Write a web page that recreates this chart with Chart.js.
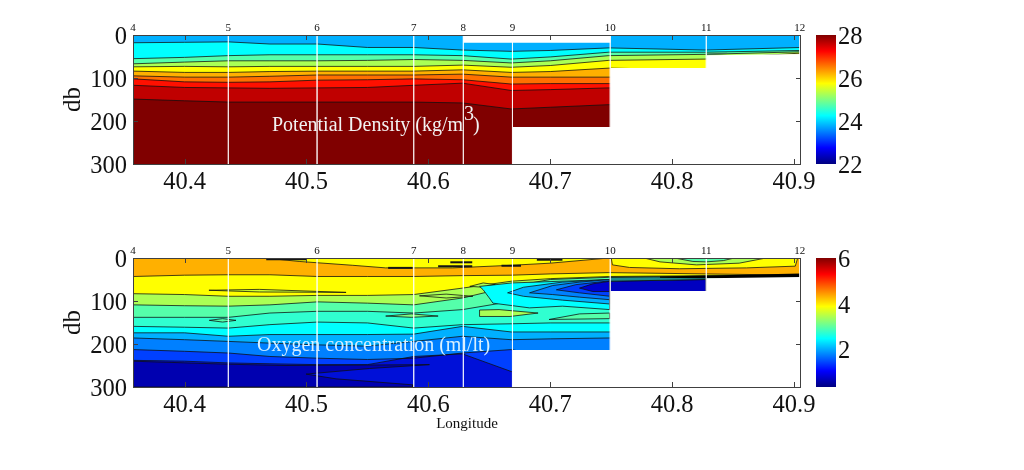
<!DOCTYPE html>
<html>
<head>
<meta charset="utf-8">
<title>Potential density and oxygen section</title>
<script src="https://cdn.jsdelivr.net/npm/chart.js@4/dist/chart.umd.min.js"></script>
<style>
    body { margin: 0; background: #fff; }
    canvas { position: absolute; }
</style>
</head>
<body>
<canvas id="densityChart" width="783" height="200" style="left:58px;top:0"></canvas>
<canvas id="densityBar" width="224" height="200" style="left:800px;top:0"></canvas>
<canvas id="oxygenChart" width="783" height="224" style="left:58px;top:223px"></canvas>
<canvas id="oxygenBar" width="224" height="224" style="left:800px;top:223px"></canvas>
<script>
// axes
const lonMin = 40.3577;
const lonMax = 40.9057;
const lonTicks = [40.4, 40.5, 40.6, 40.7, 40.8, 40.9];
const depthTicks = [0, 100, 200, 300];
const stationLon = [40.3577, 40.4359, 40.5087, 40.588, 40.6287, 40.669, 40.7492, 40.828, 40.9047];
const stationNames = ['4', '5', '6', '7', '8', '9', '10', '11', '12'];

// longitudes every contour below is read at
const gridLon = [40.358, 40.40, 40.436, 40.47, 40.509, 40.55, 40.588, 40.628, 40.668, 40.70, 40.748, 40.827, 40.906];

// section outline, white outside of it
const floorLon = [40.669, 40.669, 40.7495, 40.7495, 40.8285, 40.8285, 40.906, 40.906];
const floorDepth = [300, 214, 214, 77, 77, 47, 44, 300];
const notchLon = [40.6287, 40.6287, 40.7495, 40.7495];
const notchDepth = [0, 18, 18, 0];

// potential density contours (depth in db at gridLon)
const sigmaA = [18, 17, 16, 21, 21, 29, 29, 35, 38, 36, 30, 35, 29];
const sigmaB = [55, 52, 48, 46, 46, 46, 46, 48, 56, 51, 40, 40, 36];
const sigmaC = [67, 63, 60, 60, 60, 59, 57, 59, 65, 60, 48, 45, 39];
const sigmaD = [74, 73, 74, 73, 73, 73, 73, 70, 75, 71, 59, 56, 42];
const sigmaE = [84, 87, 87, 85, 84, 84, 84, 81, 87, 85, 77, 81, 44];
const sigmaF = [95, 98, 98, 96, 93, 93, 93, 91, 98, 98, 98, 98, 98];
const sigmaG = [102, 109, 110, 109, 105, 104, 102, 104, 114, 113, 113, 113, 113];
const sigmaH = [117, 122, 123, 124, 123, 122, 117, 112, 129, 127, 123, 123, 123];
const sigmaI = [149, 153, 156, 156, 156, 156, 156, 158, 172, 168, 162, 162, 162];
const sigmaSpotLon = [40.828, 40.845, 40.845, 40.828];
const sigmaSpotDepth = [43, 41, 44, 47];

// oxygen contours (depth in db at gridLon)
const oxyA = [43, 40, 39, 39, 43, 43, 43, 41, 40, 37, 34, 37, 40];
const oxyB = [83, 85, 89, 89, 87, 87, 85, 70, 54, 48, 43, 41, 42];
const oxyC = [109, 111, 112, 109, 102, 105, 109, 93, 66, 50, 45, 43, 43];
const oxyD = [138, 138, 138, 128, 124, 124, 128, 120, 101, 60, 52, 50, 48];
const oxyE = [159, 161, 163, 155, 149, 151, 163, 155, 153, 151, 151, 151, 151];
const oxyF = [174, 174, 182, 178, 178, 178, 177, 159, 172, 172, 172, 172, 172];
const oxyG = [186, 190, 194, 198, 202, 205, 194, 182, 190, 188, 186, 186, 186];
const oxyH = [213, 217, 221, 229, 233, 236, 233, 221, 213, 230, 230, 230, 230];
const oxyI = [238, 240, 244, 246, 248, 248, 229, 223, 264, 280, 280, 280, 280];

// closed oxygen patches
const topYellowLon = [40.4695, 40.494, 40.538, 40.565, 40.62, 40.668, 40.70, 40.748];
const topYellowDepth = [1, 8, 17, 23, 23, 17, 12, 0];
const lensYellowLon = [40.75, 40.751, 40.765, 40.806, 40.861, 40.901, 40.903];
const lensYellowDepth = [0, 16, 22, 25, 23, 19, 0];
const lensGreenLon = [40.777, 40.79, 40.82, 40.855, 40.877];
const lensGreenDepth = [0, 9, 16, 12, 0];
const lensAquaLon = [40.802, 40.817, 40.828, 40.842, 40.851];
const lensAquaDepth = [0, 8, 9, 6, 0];
const blackBandLon = [40.79, 40.906, 40.906, 40.79];
const blackBandDepth = [43, 36, 50, 46];
const wedgeCyanLon = [40.642, 40.6685, 40.749, 40.749, 40.71, 40.683, 40.653, 40.65, 40.645];
const wedgeCyanDepth = [66, 58, 50, 120, 112, 116, 105, 93, 74];
const wedgeSkyLon = [40.665, 40.678, 40.71, 40.749, 40.749, 40.71, 40.678];
const wedgeSkyDepth = [81, 68, 56, 50, 107, 98, 89];
const wedgeAzureLon = [40.683, 40.702, 40.724, 40.749, 40.749, 40.724, 40.702];
const wedgeAzureDepth = [81, 64, 56, 50, 97, 91, 85];
const wedgeBlueLon = [40.705, 40.721, 40.749, 40.749, 40.724];
const wedgeBlueDepth = [74, 62, 53, 89, 81];
const wedgeNavyLon = [40.724, 40.735, 40.749, 40.749, 40.735];
const wedgeNavyDepth = [70, 60, 54, 78, 78];
const shelfNavyLon = [40.749, 40.828, 40.828, 40.749];
const shelfNavyDepth = [54, 50, 78, 78];
const shelfTealLon = [40.749, 40.785, 40.828, 40.828, 40.749];
const shelfTealDepth = [45, 44, 45, 50, 54];
const tongueLon = [40.642, 40.658, 40.69, 40.667, 40.642];
const tongueDepth = [121, 120, 128, 136, 136];
const tongueLowLon = [40.699, 40.724, 40.749, 40.749];
const tongueLowDepth = [143, 130, 128, 141];
const spotWestLon = [40.4203, 40.4312, 40.4422, 40.4312];
const spotWestDepth = [145, 141, 145, 149];
const spotEastLon = [40.565, 40.586, 40.608, 40.586];
const spotEastDepth = [135, 130, 135, 138];
const spotUpperLon = [40.42, 40.4613, 40.5325, 40.4613];
const spotUpperDepth = [75, 73, 80, 79];
const spotMidLon = [40.5927, 40.6146, 40.6365, 40.6146];
const spotMidDepth = [88, 84, 89, 93];
const spotRidgeLon = [40.634, 40.645, 40.655, 40.645];
const spotRidgeDepth = [66, 58, 62, 68];
const navyWestLon = [40.3573, 40.4359, 40.4832, 40.6009, 40.5517, 40.4997, 40.5243, 40.5872, 40.5872, 40.3573];
const navyWestDepth = [240, 247, 250, 248, 257, 270, 281, 295, 300, 300];
// squeezed contours that print as short black dashes
const dashStart = [40.467, 40.567, 40.608, 40.618, 40.66, 40.689];
const dashEnd = [40.50, 40.587, 40.636, 40.636, 40.676, 40.71];
const dashDepth = [3, 23, 19, 10, 18, 4];

const SERIF = '"Liberation Serif", "Times New Roman", serif';
const LINE = 'rgba(15,15,15,0.85)';
const FRAME = '#404040';
const jetStops = [[0, '#000080'], [0.125, '#0000ff'], [0.375, '#00ffff'], [0.625, '#ffff00'], [0.875, '#ff0000'], [1, '#800000']];

const toPoints = (lon, depth) => lon.map((x, i) => ({ x, y: depth[i] }));

// filled region: contour line closed at the bottom of the axes
function bandSet(depth, color) {
    const pts = toPoints(gridLon, depth);
    pts.push({ x: lonMax + 0.01, y: 300 }, { x: lonMin - 0.01, y: 300 });
    return { data: pts, fill: 'shape', backgroundColor: color, borderWidth: 0, pointRadius: 0 };
}

function patchSet(lon, depth, color, outlined) {
    const pts = toPoints(lon, depth);
    pts.push(pts[0]);
    return {
        data: pts, fill: 'shape', backgroundColor: color, pointRadius: 0,
        borderColor: LINE, borderWidth: outlined ? 0.9 : 0
    };
}

function contourSet(depth) {
    return { data: toPoints(gridLon, depth), fill: false, borderColor: LINE, borderWidth: 0.9, pointRadius: 0 };
}

function dashSets() {
    return dashStart.map((x, i) => ({
        data: [{ x, y: dashDepth[i] }, { x: dashEnd[i], y: dashDepth[i] }],
        fill: false, borderColor: '#151515', borderWidth: 2, pointRadius: 0
    }));
}

function stationSets() {
    return stationLon.slice(1).map(x => ({
        data: [{ x, y: 0 }, { x, y: 300 }],
        fill: false, borderColor: 'rgba(255,255,255,0.8)', borderWidth: 0.8, pointRadius: 0
    }));
}

// tick text sits a little below the tick in the original, a blank first line with a small line height does that
const loweredLabel = v => ['', String(v)];

// frame with inward MATLAB style ticks, plus the white caption
function framePlugin(drawCaption) {
    return {
        id: 'frame',
        afterDatasetsDraw(chart) {
            const { ctx, chartArea: a, scales } = chart;
            ctx.save();
            ctx.strokeStyle = FRAME;
            ctx.lineWidth = 1;
            ctx.beginPath();
            lonTicks.forEach(v => {
                const px = Math.round(scales.x.getPixelForValue(v)) + 0.5;
                ctx.moveTo(px, a.top);
                ctx.lineTo(px, a.top + 5);
                ctx.moveTo(px, a.bottom);
                ctx.lineTo(px, a.bottom - 5);
            });
            depthTicks.slice(1, 3).forEach(v => {
                const py = Math.round(scales.y.getPixelForValue(v)) + 0.5;
                ctx.moveTo(a.left, py);
                ctx.lineTo(a.left + 5, py);
                ctx.moveTo(a.right, py);
                ctx.lineTo(a.right - 5, py);
            });
            ctx.stroke();
            ctx.strokeRect(a.left + 0.5, a.top + 0.5, a.right - a.left - 1, a.bottom - a.top);
            ctx.restore();
            drawCaption(ctx, scales);
        }
    };
}

function sectionChart(id, datasets, bottomHeight, xTitle, drawCaption) {
    datasets.forEach((d, i) => {
        d.order = -i;
        d.xAxisID = 'x';
        d.yAxisID = 'y';
        d.tension = 0;
    });
    return new Chart(document.getElementById(id), {
        type: 'line',
        data: { datasets },
        plugins: [framePlugin(drawCaption)],
        options: {
            responsive: false,
            animation: false,
            layout: { padding: { right: 40 } },
            plugins: { legend: { display: false }, tooltip: { enabled: false } },
            scales: {
                x: {
                    type: 'linear', position: 'bottom', min: lonMin, max: lonMax,
                    afterBuildTicks: s => { s.ticks = lonTicks.map(value => ({ value })); },
                    afterFit: s => { s.height = bottomHeight; },
                    grid: { display: false, drawTicks: false },
                    border: { display: false },
                    ticks: {
                        autoSkip: false, maxRotation: 0, padding: 4, color: '#111',
                        font: { family: SERIF, size: 24.5 },
                        callback: v => v.toFixed(1)
                    },
                    title: {
                        display: !!xTitle, text: xTitle, color: '#111',
                        font: { family: SERIF, size: 15 }, padding: { top: 0, bottom: 14 }
                    }
                },
                stations: {
                    type: 'linear', position: 'top', min: lonMin, max: lonMax,
                    afterBuildTicks: s => { s.ticks = stationLon.map(value => ({ value })); },
                    afterFit: s => { s.height = 35; },
                    grid: { display: false, drawTicks: false },
                    border: { display: false },
                    ticks: {
                        autoSkip: false, maxRotation: 0, padding: 0, color: '#111',
                        font: { family: SERIF, size: 11 },
                        callback: (v, i) => stationNames[i]
                    }
                },
                y: {
                    type: 'linear', position: 'left', reverse: true, min: 0, max: 300,
                    afterBuildTicks: s => { s.ticks = depthTicks.map(value => ({ value })); },
                    afterFit: s => { s.width = 75; },
                    grid: { display: false, drawTicks: false },
                    border: { display: false },
                    ticks: {
                        padding: 6, color: '#111', callback: loweredLabel,
                        font: { family: SERIF, size: 24.5, lineHeight: '5px' }
                    },
                    title: {
                        display: true, text: 'db', color: '#111',
                        font: { family: SERIF, size: 25 }, padding: 0
                    }
                }
            }
        }
    });
}

function colorBar(id, range, tickValues, bottom) {
    const ctxBar = document.getElementById(id);
    return new Chart(ctxBar, {
        type: 'bar',
        data: {
            labels: [''],
            datasets: [{
                data: [range],
                barPercentage: 1,
                categoryPercentage: 1,
                borderWidth: 0,
                backgroundColor: ({ chart }) => {
                    const a = chart.chartArea;
                    if (!a) return '#888';
                    const g = chart.ctx.createLinearGradient(0, a.bottom, 0, a.top);
                    jetStops.forEach(s => g.addColorStop(s[0], s[1]));
                    return g;
                }
            }]
        },
        options: {
            responsive: false,
            animation: false,
            layout: { padding: { left: 16, top: 35, bottom } },
            plugins: { legend: { display: false }, tooltip: { enabled: false } },
            scales: {
                x: { display: false },
                y: {
                    position: 'right', min: range[0], max: range[1],
                    afterBuildTicks: s => { s.ticks = tickValues.map(value => ({ value })); },
                    afterFit: s => { s.width = 188; },
                    grid: { display: false, drawTicks: false },
                    border: { display: false },
                    ticks: {
                        padding: 2, color: '#111', callback: loweredLabel,
                        font: { family: SERIF, size: 24.5, lineHeight: '5px' }
                    }
                }
            }
        }
    });
}

// 1. Potential density
const sigmaColors = ['#00ffff', '#55ffaa', '#aaff55', '#ffff00', '#ffb000', '#ff7000', '#ff1000', '#c00000', '#800000'];
const sigmaLines = [sigmaA, sigmaB, sigmaC, sigmaD, sigmaE, sigmaF, sigmaG, sigmaH, sigmaI];
const densitySets = [bandSet(gridLon.map(() => 0), '#00b0ff')];
sigmaLines.forEach((line, i) => densitySets.push(bandSet(line, sigmaColors[i])));
sigmaLines.forEach(line => densitySets.push(contourSet(line)));
densitySets.push(patchSet(sigmaSpotLon, sigmaSpotDepth, '#3f6f50'));
densitySets.push(...stationSets());
densitySets.push(patchSet(floorLon, floorDepth, '#ffffff'));
densitySets.push(patchSet(notchLon, notchDepth, '#ffffff'));

sectionChart('densityChart', densitySets, 36, '', ctx => {
    ctx.save();
    ctx.fillStyle = '#f2f2f2';
    ctx.font = '20px ' + SERIF;
    ctx.fillText('Potential Density (kg/m', 214, 131);
    ctx.fillText('3', 406, 120);
    ctx.fillText(')', 415, 131);
    ctx.restore();
});

// 2. Oxygen concentration
const oxyColors = ['#ffff00', '#aaff55', '#55ffaa', '#30ffd0', '#00ffff', '#00b0ff', '#0080ff', '#0040ff', '#0010d8'];
const oxyLines = [oxyA, oxyB, oxyC, oxyD, oxyE, oxyF, oxyG, oxyH, oxyI];
const oxygenSets = [bandSet(gridLon.map(() => 0), '#ffb000')];
oxyLines.forEach((line, i) => oxygenSets.push(bandSet(line, oxyColors[i])));
oxyLines.forEach(line => oxygenSets.push(contourSet(line)));
oxygenSets.push(
    patchSet(navyWestLon, navyWestDepth, '#0000b0', true),
    patchSet(topYellowLon, topYellowDepth, '#ffff00', true),
    patchSet(lensYellowLon, lensYellowDepth, '#ffff00', true),
    patchSet(lensGreenLon, lensGreenDepth, '#aaff55', true),
    patchSet(lensAquaLon, lensAquaDepth, '#55ffaa', true),
    patchSet(spotUpperLon, spotUpperDepth, '#d0ff30', true),
    patchSet(spotMidLon, spotMidDepth, '#aaff55', true),
    patchSet(spotRidgeLon, spotRidgeDepth, '#aaff55', true),
    patchSet(spotWestLon, spotWestDepth, '#55ffaa', true),
    patchSet(spotEastLon, spotEastDepth, '#80ff80', true),
    patchSet(wedgeCyanLon, wedgeCyanDepth, '#00ffff', true),
    patchSet(wedgeSkyLon, wedgeSkyDepth, '#00b0ff', true),
    patchSet(wedgeAzureLon, wedgeAzureDepth, '#0080ff', true),
    patchSet(wedgeBlueLon, wedgeBlueDepth, '#0040ff', true),
    patchSet(wedgeNavyLon, wedgeNavyDepth, '#0000d0', true),
    patchSet(tongueLon, tongueDepth, '#aaff55', true),
    patchSet(tongueLowLon, tongueLowDepth, '#55ffaa', true),
    patchSet(shelfNavyLon, shelfNavyDepth, '#0000c0', true),
    patchSet(shelfTealLon, shelfTealDepth, '#208c8c', true),
    patchSet(blackBandLon, blackBandDepth, '#000000')
);
oxygenSets.push(...dashSets());
oxygenSets.push(...stationSets());
oxygenSets.push(patchSet(floorLon, floorDepth, '#ffffff'));

sectionChart('oxygenChart', oxygenSets, 60, 'Longitude', ctx => {
    ctx.save();
    ctx.fillStyle = '#d8f0ff';
    ctx.font = '20px ' + SERIF;
    ctx.fillText('Oxygen concentration (ml/lt)', 199, 128);
    ctx.restore();
});

colorBar('densityBar', [22, 28], [22, 24, 26, 28], 36);
colorBar('oxygenBar', [0.35, 6], [2, 4, 6], 60);
</script>
</body>
</html>
